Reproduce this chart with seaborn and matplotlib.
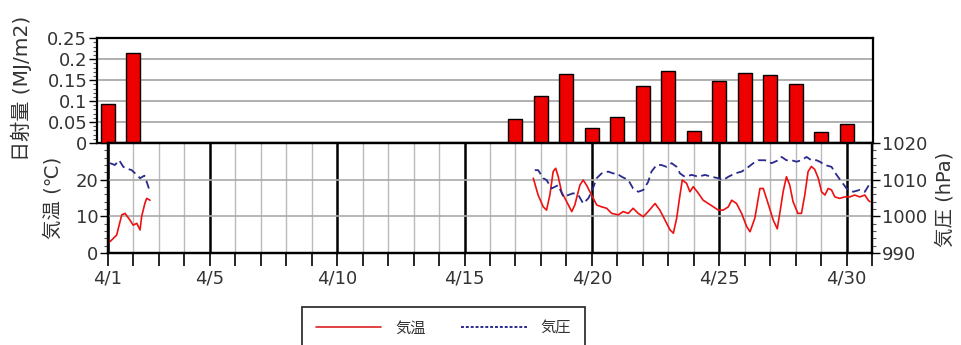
import numpy as np
import pandas as pd
import matplotlib
matplotlib.use("Agg")
import matplotlib.pyplot as plt
from matplotlib.lines import Line2D
from matplotlib.ticker import MultipleLocator
import seaborn as sns

# ---- daily solar radiation (MJ/m2) ----
rad_day = [1, 2, 17, 18, 19, 20, 21, 22, 23, 24, 25, 26, 27, 28, 29, 30]
rad_val = [0.094, 0.216, 0.058, 0.113, 0.165, 0.036, 0.061, 0.137, 0.171,
           0.028, 0.149, 0.168, 0.162, 0.142, 0.026, 0.046]

# ---- air temperature (deg C), two observation periods ----
temp_day_a = [1.08, 1.34, 1.54, 1.67, 1.86, 1.99, 2.13, 2.26, 2.32, 2.45, 2.52, 2.65]
temp_val_a = [3.1, 4.9, 10.4, 10.8, 9.0, 7.6, 8.1, 6.3, 9.9, 13.6, 14.9, 14.4]

temp_day_b = [17.70, 17.89, 18.09, 18.22, 18.35, 18.48, 18.58, 18.68, 18.81, 19.01,
              19.21, 19.33, 19.53, 19.66, 19.79, 19.99, 20.19, 20.38, 20.58, 20.78,
              21.04, 21.23, 21.43, 21.62, 21.82, 22.02, 22.21, 22.48, 22.67, 22.87,
              23.07, 23.20, 23.33, 23.46, 23.55, 23.72, 23.85, 23.98, 24.18, 24.37,
              24.57, 24.77, 24.96, 25.16, 25.36, 25.49, 25.68, 25.88, 26.08, 26.21,
              26.40, 26.60, 26.73, 26.92, 27.12, 27.28, 27.39, 27.51, 27.64, 27.77,
              27.90, 28.09, 28.23, 28.36, 28.49, 28.62, 28.75, 28.89, 29.02, 29.15,
              29.28, 29.41, 29.54, 29.73, 29.93, 30.13, 30.32, 30.52, 30.72, 30.85,
              30.92]
temp_val_b = [20.4, 15.8, 12.6, 11.7, 15.8, 22.2, 23.1, 20.8, 16.7, 14.0,
              11.3, 13.1, 18.5, 19.9, 18.5, 15.8, 13.1, 12.6, 12.2, 10.8,
              10.4, 11.3, 10.8, 12.2, 10.8, 9.9, 11.3, 13.5, 11.7, 9.0,
              6.3, 5.4, 9.5, 15.8, 19.9, 19.0, 16.7, 18.1, 16.3, 14.4,
              13.5, 12.6, 11.7, 11.7, 12.6, 14.4, 13.5, 10.8, 7.2, 5.8,
              9.5, 17.6, 17.6, 13.5, 9.0, 6.6, 11.3, 16.7, 20.8, 18.5,
              14.0, 10.8, 10.8, 15.8, 22.2, 23.6, 22.8, 20.4, 16.7, 15.8,
              17.6, 17.2, 15.3, 14.9, 15.3, 15.3, 15.8, 15.3, 15.8, 14.4,
              14.0]

# ---- air pressure (hPa), two observation periods ----
pres_day_a = [1.08, 1.27, 1.44, 1.60, 1.75, 1.93, 2.13, 2.26, 2.43, 2.52, 2.65]
pres_val_a = [1014.5, 1014.0, 1015.3, 1013.5, 1013.0, 1012.6, 1011.3, 1010.4,
              1011.1, 1009.4, 1006.7]

pres_day_b = [17.76, 17.89, 18.09, 18.22, 18.42, 18.68, 18.88, 19.07, 19.27, 19.47,
              19.66, 19.86, 19.99, 20.19, 20.38, 20.64, 20.84, 20.97, 21.17, 21.43,
              21.62, 21.82, 22.02, 22.21, 22.34, 22.54, 22.73, 22.93, 23.13, 23.33,
              23.46, 23.65, 23.92, 24.18, 24.44, 24.70, 24.96, 25.16, 25.36, 25.62,
              25.88, 26.08, 26.34, 26.53, 26.80, 27.06, 27.32, 27.45, 27.64, 27.84,
              28.04, 28.23, 28.43, 28.62, 28.82, 28.95, 29.15, 29.41, 29.61, 29.80,
              30.00, 30.26, 30.52, 30.72, 30.92]
pres_val_b = [1012.6, 1012.6, 1010.4, 1009.9, 1007.6, 1008.5, 1005.3, 1005.8, 1006.3, 1005.8,
              1003.5, 1004.9, 1006.7, 1010.4, 1011.7, 1012.2, 1011.7, 1011.7, 1010.8, 1009.9,
              1007.6, 1006.7, 1007.2, 1009.4, 1012.2, 1014.0, 1014.0, 1013.5, 1014.5, 1013.5,
              1011.7, 1010.8, 1011.3, 1010.8, 1011.3, 1010.8, 1010.4, 1009.9, 1010.8, 1011.7,
              1012.2, 1013.1, 1014.5, 1015.3, 1015.3, 1014.5, 1015.3, 1016.2, 1015.3, 1015.3,
              1014.9, 1015.3, 1016.2, 1015.3, 1015.3, 1014.9, 1014.0, 1013.5, 1011.3, 1009.5,
              1007.6, 1006.7, 1007.2, 1006.7, 1009.0]

tick_days = [1, 5, 10, 15, 20, 25, 30]
tick_labels = ["4/1", "4/5", "4/10", "4/15", "4/20", "4/25", "4/30"]

rad_df = pd.DataFrame({"day": rad_day, "rad": rad_val})
temp_df = pd.DataFrame({
    "day": temp_day_a + temp_day_b,
    "temp": temp_val_a + temp_val_b,
    "seg": [0] * len(temp_day_a) + [1] * len(temp_day_b),
})
pres_df = pd.DataFrame({
    "day": pres_day_a + pres_day_b,
    "pres": pres_val_a + pres_val_b,
    "seg": [0] * len(pres_day_a) + [1] * len(pres_day_b),
})

sns.set_theme(style="white")
plt.rcParams["font.family"] = ["DejaVu Sans", "Noto Sans CJK JP"]
plt.rcParams["axes.unicode_minus"] = False
TXT = "#333333"
FS = 13
LFS = 14

W, H = 962, 345
fig = plt.figure(figsize=(W / 100, H / 100), dpi=100)
ax_top = fig.add_axes([97 / W, (H - 143) / H, 776 / W, (143 - 38.3) / H])
ax_low = fig.add_axes([108 / W, (H - 253) / H, 764 / W, (253 - 143) / H])

# ---------- radiation bars ----------
sns.barplot(data=rad_df, x="day", y="rad", native_scale=True, width=0.55,
            color="#ee0000", edgecolor="black", linewidth=1.0, saturation=1,
            errorbar=None, ax=ax_top)
for p in ax_top.patches:
    p.set_zorder(3)
ax_top.set_xlim(0.568, 31.04)
ax_top.set_ylim(0, 0.25)
ax_top.yaxis.set_major_locator(MultipleLocator(0.05))
ax_top.yaxis.set_minor_locator(MultipleLocator(0.01))
ax_top.set_yticks([0, 0.05, 0.1, 0.15, 0.2, 0.25])
ax_top.set_yticklabels(["0", "0.05", "0.1", "0.15", "0.2", "0.25"])
ax_top.set_xticks(range(1, 32))
ax_top.tick_params(axis="x", which="major", direction="out", length=6, width=1,
                   color="black", labelbottom=False, bottom=True)
ax_top.tick_params(axis="y", which="major", direction="out", length=6, width=1,
                   color="black", labelsize=FS, labelcolor=TXT, left=True, pad=1)
ax_top.tick_params(axis="y", which="minor", direction="out", length=3, width=0.8,
                   color="#555555", left=True)
ax_top.grid(axis="y", which="major", color="#aaaaaa", lw=1.3, zorder=0)
ax_top.set_axisbelow(True)
ax_top.set_xlabel("")
ax_top.set_ylabel("日射量 (MJ/m2)", fontsize=LFS + 0.5, color=TXT)
ax_top.yaxis.set_label_coords(-0.084, 0.52)
for s in ax_top.spines.values():
    s.set_color("black")
    s.set_linewidth(1.6)

# ---------- temperature ----------
sns.lineplot(data=temp_df, x="day", y="temp", units="seg", estimator=None,
             color="#ee1111", lw=1.2, ax=ax_low, zorder=3)
ax_low.set_xlim(1, 31.0)
ax_low.set_ylim(0, 30)
ax_low.set_xticks(tick_days)
ax_low.set_xticklabels(tick_labels)
ax_low.set_xticks(range(1, 32), minor=True)
ax_low.set_yticks([0, 10, 20, 30])
ax_low.set_yticklabels(["0", "10", "20", ""])
ax_low.yaxis.set_minor_locator(MultipleLocator(2))
ax_low.tick_params(axis="x", which="both", direction="out", length=9, width=1.2,
                   color="black", bottom=True, labelsize=FS, labelcolor=TXT, pad=3)
ax_low.tick_params(axis="y", which="major", direction="out", length=6, width=1,
                   color="black", left=True, labelsize=FS, labelcolor=TXT, pad=1)
ax_low.tick_params(axis="y", which="minor", direction="out", length=3, width=0.8,
                   color="#555555", left=True)
ax_low.grid(axis="x", which="minor", color="#bbbbbb", lw=1.0, zorder=0)
ax_low.grid(axis="x", which="major", color="black", lw=1.8, zorder=1)
ax_low.grid(axis="y", which="major", color="#aaaaaa", lw=1.2, zorder=0)
ax_low.set_axisbelow(True)
ax_low.set_xlabel("")
ax_low.set_ylabel("気温 (℃)", fontsize=LFS, color=TXT)
ax_low.yaxis.set_label_coords(-0.059, 0.5)
for s in ax_low.spines.values():
    s.set_color("black")
    s.set_linewidth(1.6)

# ---------- pressure on the right axis ----------
ax_p = ax_low.twinx()
sns.lineplot(data=pres_df, x="day", y="pres", units="seg", estimator=None,
             color="#2a2a8c", lw=1.3, linestyle=(0, (4.5, 2.5)), ax=ax_p, zorder=3)
ax_p.set_xlim(1, 31.0)
ax_p.set_ylim(990, 1020)
ax_p.set_yticks([990, 1000, 1010, 1020])
ax_p.yaxis.set_minor_locator(MultipleLocator(2))
ax_p.tick_params(axis="y", which="major", direction="out", length=6, width=1,
                 color="black", right=True, labelsize=FS, labelcolor=TXT, pad=1)
ax_p.tick_params(axis="y", which="minor", direction="out", length=3, width=0.8,
                 color="#555555", right=True)
ax_p.grid(False)
ax_p.set_xlabel("")
ax_p.set_ylabel("気圧 (hPa)", fontsize=LFS, color=TXT)
ax_p.yaxis.set_label_coords(1.0825, 0.49)
for s in ax_p.spines.values():
    s.set_color("black")
    s.set_linewidth(1.6)

# ---------- legend ----------
handles = [Line2D([], [], color="#dd2222", lw=1.2),
           Line2D([], [], color="#2a2a8c", lw=1.4, linestyle=(0, (1.5, 1.0)))]
leg = fig.legend(handles, ["気温", "気圧"], loc="upper left",
                 bbox_to_anchor=(302 / W, (H - 307) / H), ncol=2,
                 fontsize=11, frameon=True, fancybox=False, handlelength=4.3,
                 handletextpad=0.9, columnspacing=2.3, borderpad=0.9,
                 borderaxespad=0)
leg.get_frame().set_edgecolor("black")
leg.get_frame().set_linewidth(1.3)
for t in leg.get_texts():
    t.set_color(TXT)

fig.savefig("out.png", dpi=100)
